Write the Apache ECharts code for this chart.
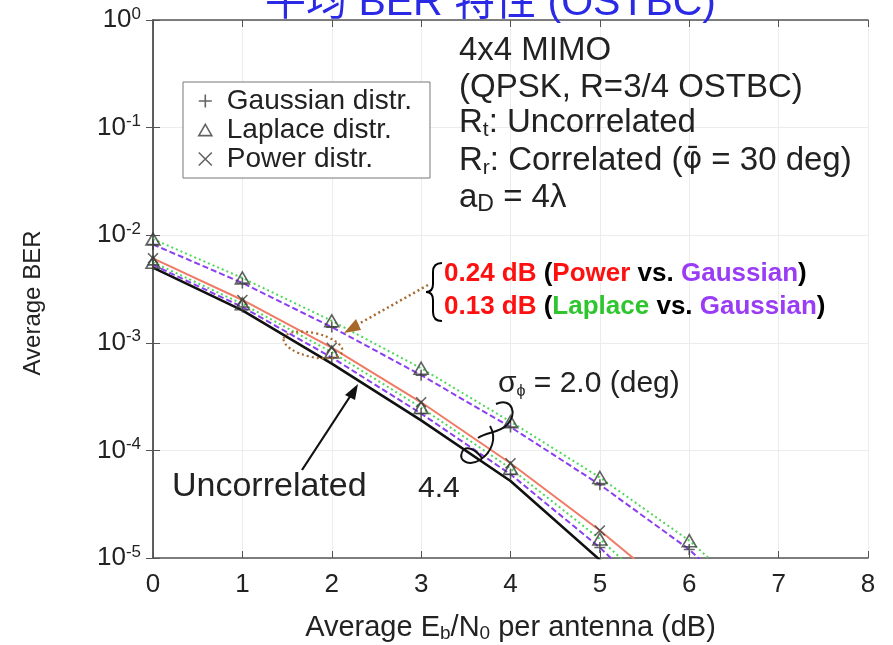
<!DOCTYPE html>
<html>
<head>
<meta charset="utf-8">
<script src="https://cdn.jsdelivr.net/npm/echarts@6/dist/echarts.min.js"></script>
<style>
html,body{margin:0;padding:0;background:#fff;}
#chart{width:893px;height:645px;}
</style>
</head>
<body>
<div id="chart"></div>
<script>
// ---- data ----
const ebno = [0, 1, 2, 3, 4, 5, 6, 7];
const xTicks = [0, 1, 2, 3, 4, 5, 6, 7, 8];
const yTicks = [1, 1e-1, 1e-2, 1e-3, 1e-4, 1e-5];
// Uncorrelated
const uncorrelated = [5.0e-3, 2.0e-3, 6.4e-4, 1.9e-4, 5.2e-5, 9.6e-6, 1.5e-6];
// sigma_phi = 2.0 deg
const gauss20   = [8.2e-3, 3.6e-3, 1.4e-3, 5.0e-4, 1.65e-4, 4.8e-5, 1.2e-5, 2.0e-6];
const laplace20 = [9.2e-3, 4.0e-3, 1.6e-3, 5.8e-4, 1.85e-4, 5.6e-5, 1.45e-5, 2.6e-6];
// sigma_phi = 4.4 deg
const gauss44   = [5.3e-3, 2.15e-3, 7.3e-4, 2.2e-4, 6.0e-5, 1.25e-5, 2.0e-6];
const laplace44 = [5.6e-3, 2.3e-3, 8.2e-4, 2.5e-4, 6.8e-5, 1.5e-5, 2.6e-6];
const power44   = [6.1e-3, 2.5e-3, 9.0e-4, 2.8e-4, 7.6e-5, 1.8e-5, 3.7e-6];

const legendNames = ['Gaussian distr.', 'Laplace distr.', 'Power distr.'];

// ---- helpers ----
const pairs = (ys) => ys.map((y, i) => [ebno[i], y]);
const PLUS = 'path://M5,0L5,10M0,5L10,5';
const CROSS = 'path://M0,0L10,10M10,0L0,10';
const TRI = 'path://M5,0L10,8.66L0,8.66Z';
const markerStyle = {color: 'rgba(0,0,0,0)', borderColor: '#3a3f3a', borderWidth: 1.6};

function lineSeries(ys, color, type, width) {
  return {
    type: 'line', data: pairs(ys), showSymbol: false, symbol: 'none',
    lineStyle: {color: color, type: type, width: width}, clip: true, z: 2,
    silent: true, animation: false
  };
}
function markerSeries(name, symbol, size, ...groups) {
  let d = [];
  groups.forEach(g => { d = d.concat(pairs(g)); });
  return {
    type: 'scatter', name: name, data: d, symbol: symbol, symbolSize: size,
    itemStyle: markerStyle, clip: true, z: 4, animation: false
  };
}

const BASE = '"Liberation Sans", Arial, Helvetica, sans-serif';
const TXT = '#222';
const BROWN = '#a8682a';
const Z = 100;

function q(x1, y1, cx, cy, x2, y2, stroke, w) {
  return {type: 'bezierCurve', z: Z, shape: {x1: x1, y1: y1, cpx1: cx, cpy1: cy, x2: x2, y2: y2},
    style: {stroke: stroke || '#000', lineWidth: w || 2, fill: null}};
}
function c(x1, y1, c1x, c1y, c2x, c2y, x2, y2, stroke, w) {
  return {type: 'bezierCurve', z: Z, shape: {x1: x1, y1: y1, cpx1: c1x, cpy1: c1y, cpx2: c2x, cpy2: c2y, x2: x2, y2: y2},
    style: {stroke: stroke || '#111', lineWidth: w || 2, fill: null}};
}
function ln(x1, y1, x2, y2, stroke, w, dash) {
  const s = {stroke: stroke || '#000', lineWidth: w || 2};
  if (dash) s.lineDash = dash;
  return {type: 'line', z: Z, shape: {x1: x1, y1: y1, x2: x2, y2: y2}, style: s};
}
function txt(left, top, text, size, extra) {
  const style = Object.assign({text: text, font: size + 'px ' + BASE, fill: TXT}, extra || {});
  return {type: 'text', z: Z, left: left, top: top, style: style};
}
const subRich = (fs, pad) => ({s: {fontSize: fs, fontFamily: BASE, fill: TXT, padding: [pad, 0, 0, 0]}});

const chart = echarts.init(document.getElementById('chart'));
const option = {
  backgroundColor: '#fff',
  animation: false,
  title: {
    text: '平均 BER 特性 (OSTBC)',
    left: 260, top: -22,
    textStyle: {color: '#2a2ae6', fontSize: 41, fontWeight: 'normal',
      fontFamily: '"Liberation Sans", "Noto Sans CJK SC", sans-serif'}
  },
  grid: {left: 153, right: 25, top: 20, bottom: 87, containLabel: false, outerBoundsMode: 'none'},
  legend: {
    data: [
      {name: legendNames[0], icon: PLUS},
      {name: legendNames[1], icon: TRI},
      {name: legendNames[2], icon: CROSS}
    ],
    orient: 'vertical', left: 183, top: 82,
    itemWidth: 13, itemHeight: 13, itemGap: 1,
    padding: [5, 18, 5, 15],
    borderColor: '#777', borderWidth: 1, backgroundColor: '#fff',
    itemStyle: markerStyle,
    textStyle: {fontSize: 28, lineHeight: 27, color: TXT, fontFamily: BASE, padding: [0, 0, 0, 10]},
    selectedMode: false
  },
  xAxis: [{
    type: 'value', min: 0, max: 8, interval: 1, position: 'bottom',
    axisLine: {show: true, lineStyle: {color: '#555', width: 1.5}},
    axisTick: {show: true, inside: true, length: 7, lineStyle: {color: '#555'}},
    axisLabel: {fontSize: 26, color: TXT, margin: 14, fontFamily: BASE,
      formatter: (v) => xTicks.includes(v) ? String(v) : ''},
    splitLine: {show: true, lineStyle: {color: '#ececec', width: 1}},
    name: 'Average E{sub|b}/N{sub|0} per antenna (dB)',
    nameLocation: 'middle', nameGap: 55,
    nameTextStyle: {fontSize: 29, color: TXT, fontFamily: BASE,
      rich: {sub: {fontSize: 19, verticalAlign: 'bottom', padding: [11, 0, 0, 0], fontFamily: BASE, color: TXT}}}
  }, {
    type: 'value', min: 0, max: 8, interval: 1, position: 'top',
    axisLine: {show: true, lineStyle: {color: '#555', width: 1.5}},
    axisTick: {show: true, inside: true, length: 7, lineStyle: {color: '#555'}},
    axisLabel: {show: false}, splitLine: {show: false}
  }],
  yAxis: [{
    type: 'log', logBase: 10, min: 1e-5, max: 1,
    axisLine: {show: true, lineStyle: {color: '#555', width: 1.5}},
    axisTick: {show: true, inside: true, length: 7, lineStyle: {color: '#555'}},
    axisLabel: {
      fontSize: 26, color: TXT, margin: 12, fontFamily: BASE,
      formatter: (v) => {
        const e = Math.round(Math.log10(v));
        return yTicks.some(t => Math.abs(Math.log10(t) - e) < 1e-9) ? '10{sup|' + e + '}' : '';
      },
      rich: {sup: {fontSize: 17, verticalAlign: 'top', padding: [0, 0, 12, 0], color: TXT, fontFamily: BASE}}
    },
    splitLine: {show: true, lineStyle: {color: '#ececec', width: 1}},
    name: 'Average BER', nameLocation: 'middle', nameGap: 108,
    nameTextStyle: {fontSize: 24, color: TXT, fontFamily: BASE, padding: [0, 28, 0, 0]}
  }, {
    type: 'log', logBase: 10, min: 1e-5, max: 1, position: 'right',
    axisLine: {show: true, lineStyle: {color: '#555', width: 1.5}},
    axisTick: {show: true, inside: true, length: 7, lineStyle: {color: '#555'}},
    axisLabel: {show: false}, splitLine: {show: false}
  }],
  series: [
    lineSeries(laplace20, '#4ed85a', [2, 3], 2),
    lineSeries(gauss20, '#8a3ff0', [6, 3], 2),
    lineSeries(power44, '#ef7a66', 'solid', 2),
    lineSeries(laplace44, '#4ed85a', [2, 3], 2),
    lineSeries(gauss44, '#8a3ff0', [6, 3], 2),
    lineSeries(uncorrelated, '#111', 'solid', 2.6),
    markerSeries(legendNames[0], PLUS, 11, gauss20, gauss44),
    markerSeries(legendNames[1], TRI, [14, 12], laplace20, laplace44),
    markerSeries(legendNames[2], CROSS, 10, power44)
  ],
  graphic: [
    // info block
    txt(459, 34, '4x4 MIMO', 33),
    txt(459, 71, '(QPSK, R=3/4 OSTBC)', 33),
    txt(459, 106, 'R{s|t}: Uncorrelated', 33, {rich: subRich(21, 15)}),
    txt(459, 144, 'R{s|r}: Correlated ({phi|φ\u0304} = 30 deg)', 33, {rich: Object.assign(subRich(21, 15),
      {phi: {fontSize: 30, fontFamily: '"DejaVu Sans"', fill: TXT}})}),
    txt(459, 181, 'a{s|D} = 4λ', 33, {rich: subRich(23, 15)}),
    // colored annotation
    {type: 'text', z: Z, left: 444, top: 261, style: {
      text: '{r|0.24 dB} {k|(}{r|Power}{k| vs. }{p|Gaussian}{k|)}',
      font: 'bold 26px ' + BASE,
      rich: {r: {fill: '#ff1010', fontSize: 26, fontWeight: 'bold', fontFamily: BASE},
             k: {fill: '#000', fontSize: 26, fontWeight: 'bold', fontFamily: BASE},
             p: {fill: '#9a3cf5', fontSize: 26, fontWeight: 'bold', fontFamily: BASE}}}},
    {type: 'text', z: Z, left: 444, top: 294, style: {
      text: '{r|0.13 dB} {k|(}{g|Laplace}{k| vs. }{p|Gaussian}{k|)}',
      font: 'bold 26px ' + BASE,
      rich: {r: {fill: '#ff1010', fontSize: 26, fontWeight: 'bold', fontFamily: BASE},
             k: {fill: '#000', fontSize: 26, fontWeight: 'bold', fontFamily: BASE},
             g: {fill: '#2ec52e', fontSize: 26, fontWeight: 'bold', fontFamily: BASE},
             p: {fill: '#9a3cf5', fontSize: 26, fontWeight: 'bold', fontFamily: BASE}}}},
    // brace
    q(442, 263, 433, 263, 433, 272), ln(433, 272, 433, 284),
    q(433, 284, 433, 292, 426, 292), q(426, 292, 433, 292, 433, 300),
    ln(433, 300, 433, 312), q(433, 312, 433, 321, 442, 321),
    // brown dotted pointer + ellipse
    ln(428, 285, 355, 326, BROWN, 2.5, [2, 3]),
    {type: 'polygon', z: Z, shape: {points: [[344, 333], [356, 319], [361, 330]]}, style: {fill: BROWN}},
    {type: 'ellipse', z: Z, shape: {cx: 313, cy: 345, rx: 30, ry: 12}, rotation: -0.22, originX: 313, originY: 345,
      style: {stroke: BROWN, lineWidth: 2.2, lineDash: [2, 3], fill: null}},
    // uncorrelated arrow + label
    ln(302, 470, 351, 395, '#111', 2.2),
    {type: 'polygon', z: Z, shape: {points: [[358, 384], [345, 395], [355, 400]]}, style: {fill: '#111'}},
    txt(172, 470, 'Uncorrelated', 34),
    txt(418, 474, '4.4', 30),
    txt(498, 369, 'σ{s|ϕ} = 2.0 (deg)', 30, {rich: subRich(16, 15)}),
    // loops
    c(496, 404, 512, 397, 518, 414, 507, 425), c(507, 425, 499, 433, 486, 432, 478, 438),
    c(490, 426, 497, 438, 492, 452, 480, 460), c(480, 460, 470, 466, 458, 462, 462, 452),
    c(462, 452, 466, 444, 476, 450, 482, 458)
  ]
};
chart.setOption(option);
</script>
</body>
</html>
